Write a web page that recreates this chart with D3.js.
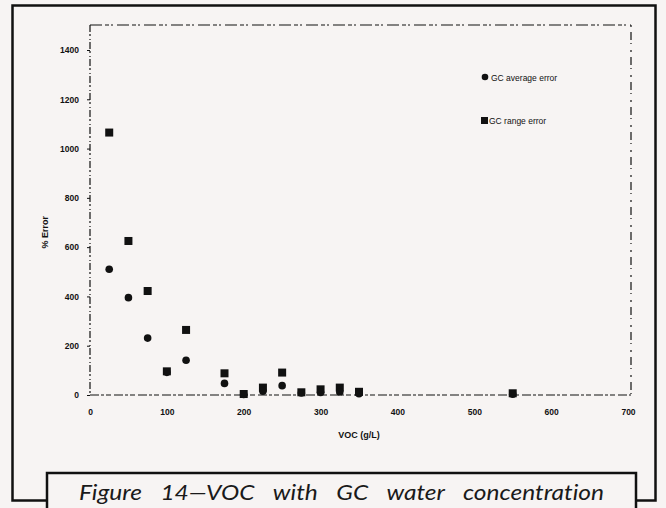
<!DOCTYPE html>
<html>
<head>
<meta charset="utf-8">
<script src="https://cdn.jsdelivr.net/npm/d3@7/dist/d3.min.js"></script>
<style>
  html, body { margin: 0; padding: 0; background: #f7f4f3; }
  svg { display: block; }
</style>
</head>
<body>
<svg id="chart" width="666" height="508"></svg>
<script>
// VOC concentration (g/L)
const vocLevels = [25, 50, 75, 100, 125, 175, 200, 225, 250, 275, 300, 325, 350, 550];
// GC average error (%)
const avgError = [510, 395, 231, 92, 141, 47, 2, 15, 38, 8, 10, 12, 5, 3];
// GC range error (%)
const rangeError = [1065, 625, 422, 96, 264, 88, 4, 30, 91, 11, 23, 30, 13, 7];
// Axis ticks
const xTicks = [0, 100, 200, 300, 400, 500, 600, 700];
const yTicks = [0, 200, 400, 600, 800, 1000, 1200, 1400];

const svg = d3.select("#chart");
const ink = "#111";

// Outer panel
svg.append("rect")
  .attr("x", 12.5).attr("y", 5.5).attr("width", 643).attr("height", 495)
  .attr("fill", "#f7f4f3").attr("stroke", ink).attr("stroke-width", 2.5);

const plot = { left: 90, right: 628, top: 25, bottom: 395 };
const x = d3.scaleLinear().domain([0, 700]).range([plot.left, plot.right]);
const y = d3.scaleLinear().domain([0, 1400]).range([plot.bottom, 50]);

// Plot frame drawn with a broken stroke
const frame = svg.append("g").attr("fill", "none").attr("stroke", ink).attr("stroke-width", 1.2);
frame.append("line").attr("x1", plot.left).attr("x2", plot.left)
  .attr("y1", plot.top).attr("y2", plot.bottom).attr("stroke-dasharray", "7,2,2,3,1,2");
frame.append("line").attr("x1", plot.left).attr("x2", 631)
  .attr("y1", plot.bottom).attr("y2", plot.bottom).attr("stroke-dasharray", "9,2,3,2,5,3");
frame.append("line").attr("x1", plot.left).attr("x2", 631)
  .attr("y1", plot.top).attr("y2", plot.top).attr("stroke-dasharray", "12,3,4,2,2,4");
frame.append("line").attr("x1", 631).attr("x2", 631)
  .attr("y1", plot.top).attr("y2", plot.bottom).attr("stroke-dasharray", "2,5,8,3,1,6");

// Axes
const axisFont = "'Liberation Sans', Arial, sans-serif";
const xAxis = svg.append("g")
  .attr("transform", `translate(0,${plot.bottom})`)
  .call(d3.axisBottom(x).tickValues(xTicks).tickFormat(d3.format("d")).tickSize(0).tickPadding(14));
const yAxis = svg.append("g")
  .attr("transform", `translate(${plot.left},0)`)
  .call(d3.axisLeft(y).tickValues(yTicks).tickFormat(d3.format("d")).tickSize(3).tickPadding(8));
[xAxis, yAxis].forEach(g => {
  g.select(".domain").remove();
  g.selectAll("text").attr("font-family", axisFont).attr("font-size", 8.5)
    .attr("font-weight", "bold").attr("fill", ink);
  g.selectAll("line").attr("stroke", ink);
});

// Axis titles
svg.append("text")
  .attr("x", x(350)).attr("y", 438).attr("text-anchor", "middle")
  .attr("font-family", axisFont).attr("font-size", 9).attr("font-weight", "bold")
  .attr("fill", ink).text("VOC (g/L)");
svg.append("text")
  .attr("transform", `translate(48,${y(660)}) rotate(-90)`)
  .attr("text-anchor", "middle")
  .attr("font-family", axisFont).attr("font-size", 9).attr("font-weight", "bold")
  .attr("fill", ink).text("% Error");

// Markers: range error (squares) then average error (circles)
const rangePts = vocLevels.map((v, i) => ({ v, e: rangeError[i] }));
const avgPts = vocLevels.map((v, i) => ({ v, e: avgError[i] }));
const sq = 8;
svg.append("g").selectAll("rect").data(rangePts).join("rect")
  .attr("x", d => x(d.v) - sq / 2).attr("y", d => y(d.e) - sq / 2)
  .attr("width", sq).attr("height", sq).attr("fill", ink);
svg.append("g").selectAll("circle").data(avgPts).join("circle")
  .attr("cx", d => x(d.v)).attr("cy", d => y(d.e)).attr("r", 3.8).attr("fill", ink);

// Legend
const legend = svg.append("g").attr("font-family", axisFont).attr("font-size", 8.5)
  .attr("fill", ink);
legend.append("circle").attr("cx", 485).attr("cy", 77).attr("r", 3.3).attr("fill", ink);
legend.append("text").attr("x", 491).attr("y", 80.5).text("GC average error");
legend.append("rect").attr("x", 481).attr("y", 117).attr("width", 7).attr("height", 7).attr("fill", ink);
legend.append("text").attr("x", 489).attr("y", 124).text("GC range error");

// Caption box
svg.append("rect")
  .attr("x", 47).attr("y", 473).attr("width", 589).attr("height", 50)
  .attr("fill", "#f7f4f3").attr("stroke", ink).attr("stroke-width", 2.5);
// Justified caption line in a wide italic: stretch word gaps to fill the box width
const stretch = 1.14;
const captionLeft = 79, captionRight = 603;
const caption = svg.append("text")
  .attr("transform", `translate(${captionLeft},500) scale(${stretch},1)`)
  .attr("font-family", "Lato, 'Open Sans', sans-serif").attr("font-style", "italic")
  .attr("font-size", 21.5).attr("fill", "#1a1a1a")
  .style("font-variant-ligatures", "none")
  .text("Figure 14\u2014VOC with GC water concentration");
const gaps = 4;
const target = (captionRight - captionLeft) / stretch;
let spacing = 0;
for (let i = 0; i < 3; i++) {
  caption.attr("word-spacing", spacing);
  const w = caption.node().getBBox().width;
  spacing = Math.max(0, spacing + (target - w) / gaps);
}
caption.attr("word-spacing", spacing);
</script>
</body>
</html>
